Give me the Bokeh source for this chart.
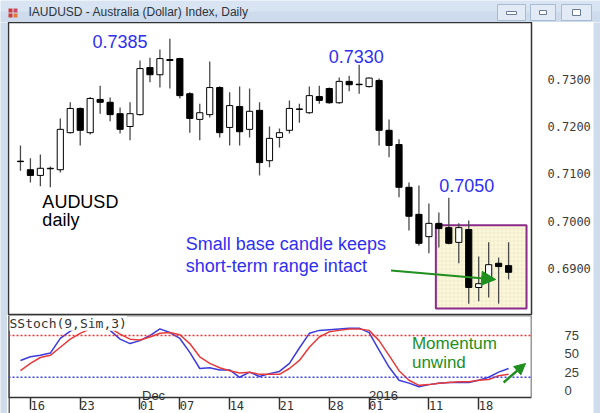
from bokeh.plotting import figure
from bokeh.layouts import column, row
from bokeh.models import (ColumnDataSource, FixedTicker, Range1d, Span, Label,
                          BoxAnnotation, Arrow, NormalHead, PrintfTickFormatter)
from bokeh.embed import file_html
from bokeh.resources import INLINE
from bokeh.core.properties import value

# ---------------- data ----------------
day_index = list(range(50))   # trading days 13 Nov 2015 .. 21 Jan 2016
opens = [0.7127, 0.7109, 0.7097, 0.7111, 0.7109, 0.7187, 0.7238, 0.7187, 0.7257, 0.7251,
         0.7227, 0.7200, 0.7225, 0.7324, 0.7309, 0.7341, 0.7343, 0.7269, 0.7215, 0.7225,
         0.7282, 0.7198, 0.7242, 0.7194, 0.7234, 0.7128, 0.7177, 0.7192, 0.7237, 0.7229,
         0.7263, 0.7280, 0.7250, 0.7295, 0.7289, 0.7284, 0.7297, 0.7192, 0.7162, 0.7072,
         0.7015, 0.6968, 0.6996, 0.6987, 0.6956, 0.6983, 0.6861, 0.6876, 0.6912, 0.6907]
highs = [0.7160, 0.7133, 0.7141, 0.7116, 0.7217, 0.7251, 0.7240, 0.7262, 0.7286, 0.7261,
         0.7240, 0.7251, 0.7339, 0.7345, 0.7362, 0.7385, 0.7345, 0.7272, 0.7248, 0.7337,
         0.7285, 0.7272, 0.7284, 0.7280, 0.7251, 0.7200, 0.7196, 0.7255, 0.7248, 0.7284,
         0.7286, 0.7282, 0.7303, 0.7307, 0.7330, 0.7303, 0.7301, 0.7215, 0.7173, 0.7082,
         0.7076, 0.7038, 0.7019, 0.7050, 0.6996, 0.7002, 0.6926, 0.6956, 0.6924, 0.6956]
lows = [0.7107, 0.7082, 0.7074, 0.7072, 0.7103, 0.7185, 0.7160, 0.7183, 0.7227, 0.7211,
        0.7185, 0.7171, 0.7223, 0.7293, 0.7282, 0.7280, 0.7259, 0.7187, 0.7171, 0.7219,
        0.7177, 0.7160, 0.7160, 0.7177, 0.7097, 0.7114, 0.7156, 0.7185, 0.7208, 0.7227,
        0.7248, 0.7248, 0.7248, 0.7274, 0.7269, 0.7282, 0.7160, 0.7135, 0.7051, 0.6981,
        0.6949, 0.6933, 0.6945, 0.6952, 0.6912, 0.6827, 0.6832, 0.6840, 0.6827, 0.6878]
closes = [0.7126, 0.7097, 0.7112, 0.7112, 0.7194, 0.7238, 0.7192, 0.7259, 0.7251, 0.7225,
          0.7194, 0.7227, 0.7322, 0.7309, 0.7343, 0.7339, 0.7265, 0.7217, 0.7229, 0.7282,
          0.7187, 0.7244, 0.7189, 0.7232, 0.7124, 0.7175, 0.7187, 0.7238, 0.7236, 0.7265,
          0.7255, 0.7250, 0.7295, 0.7288, 0.7288, 0.7302, 0.7192, 0.7160, 0.7072, 0.7011,
          0.6954, 0.6996, 0.6985, 0.6954, 0.6987, 0.6861, 0.6869, 0.6909, 0.6905, 0.6893]

stoch_k = [41, 46, 48, 51, 71, 81, 88, 92, 90, 82,
           70, 64, 68, 75, 84, 79, 71, 52, 30, 31,
           28, 28, 18, 25, 19, 23, 26, 37, 58, 78,
           82, 83, 84, 85, 85, 79, 55, 32, 14, 10,
           5, 8, 10, 11, 11, 11, 14, 18, 25, 30]
stoch_d = [27, 37, 45, 48, 59, 70, 78, 84, 87, 85,
           77, 70, 69, 73, 78, 79, 76, 64, 46, 37,
           31, 27, 24, 25, 22, 22, 22, 30, 41, 59,
           73, 80, 82, 84, 84, 82, 68, 48, 27, 14,
           7, 8, 10, 11, 12, 12, 14, 15, 20, 22]

price_ticks = [0.69, 0.70, 0.71, 0.72, 0.73]
stoch_ticks = [0, 25, 50, 75]
stoch_levels = [75, 18]
date_tick_index = [1, 6, 12, 16, 21, 26, 31, 35, 41, 46]
date_tick_labels = ["16", "23", "01", "07", "14", "21", "28", "01", "11", "18"]
month_labels = [(12.2, "Dec"), (35.0, "2016")]
base_box = dict(left=41.7, right=50.8, top=0.6992, bottom=0.6817)

BLUE = "#2f2ff0"
GREEN = "#1f8f1f"
FRAME = "#cfdcec"
X_RANGE = Range1d(-1.2, 51.3)

# ---------------- window title bar ----------------
t = figure(width=600, height=22, x_range=Range1d(0, 600), y_range=Range1d(0, 22),
           output_backend="svg", toolbar_location=None, min_border=0,
           x_axis_location=None, y_axis_location=None,
           background_fill_color="#d8e4f2", border_fill_color="#d8e4f2",
           outline_line_color=None)
t.grid.visible = False
t.quad(left=[0], right=[600], bottom=[0], top=[11], fill_color="#cddbec", line_color=None)
t.quad(left=[8, 13, 8, 13], right=[12, 17, 12, 17], bottom=[5, 5, 10, 10], top=[9, 9, 14, 14],
       fill_color=["#d23a3a", "#e07a3a", "#d23a3a", "#c84a6a"], line_color=None)
t.text(x=[28], y=[11], text=["IAUDUSD - Australia (Dollar) Index, Daily"],
       text_font=value("Liberation Sans"), text_font_size="12px",
       text_baseline="middle", text_color="#2c3440")
t.quad(left=[497, 530, 561], right=[525, 555, 591], bottom=[2, 2, 2], top=[18, 18, 18],
       fill_color="#e2eaf5", line_color="#a9bbd2", line_width=1)
t.quad(left=[506, 539, 572], right=[516, 546, 580], bottom=[8, 8, 7], top=[11, 12, 13],
       fill_color="#ffffff", line_color="#6a7c94", line_width=1)


def strip():
    f = figure(width=7, height=391, output_backend="svg", toolbar_location=None,
               min_border=0, x_axis_location=None, y_axis_location=None,
               background_fill_color=FRAME, border_fill_color=FRAME,
               outline_line_color=None)
    f.grid.visible = False
    return f


# ---------------- price panel ----------------
p = figure(width=586, height=293, x_range=X_RANGE, y_range=Range1d(0.6802, 0.7419),
           output_backend="svg", toolbar_location=None,
           x_axis_location=None, y_axis_location="right",
           min_border_left=1, min_border_right=60, min_border_top=0, min_border_bottom=0,
           background_fill_color="white", border_fill_color="white",
           outline_line_color="#333333", outline_line_width=1.5)
p.grid.visible = False
ya = p.yaxis[0]
ya.ticker = FixedTicker(ticks=price_ticks)
ya.formatter = PrintfTickFormatter(format="%.4f")
ya.axis_line_color = None
ya.major_tick_line_color = None
ya.minor_tick_line_color = None
ya.major_label_text_font = "DejaVu Sans Mono"
ya.major_label_text_font_size = "12px"
ya.major_label_text_color = "#3c3c3c"
ya.major_label_standoff = 10

p.add_layout(BoxAnnotation(fill_color="#fcf8dc", fill_alpha=1.0, line_color="#8b2b8b",
                           line_alpha=1.0, line_dash="solid", line_width=2,
                           level="underlay", hatch_pattern="+",
                           hatch_color="#ebe3bd", hatch_scale=4, hatch_weight=0.6,
                           **base_box))

src = ColumnDataSource(dict(
    x=day_index, h=highs, l=lows,
    top=[max(o, c) for o, c in zip(opens, closes)],
    bottom=[min(o, c) for o, c in zip(opens, closes)],
    fill=["white" if c >= o else "black" for o, c in zip(opens, closes)],
))
p.segment(x0="x", y0="h", x1="x", y1="l", source=src, line_color="#4a4a4a", line_width=1.3)
p.vbar(x="x", width=0.62, top="top", bottom="bottom", fill_color="fill",
       line_color="black", line_width=1, source=src)

lbl = dict(text_font="Liberation Sans", text_font_size="18px")
p.add_layout(Label(x=10.0, y=0.73663, text="0.7385", text_align="center", text_color=BLUE, **lbl))
p.add_layout(Label(x=33.7, y=0.73347, text="0.7330", text_align="center", text_color=BLUE, **lbl))
p.add_layout(Label(x=44.8, y=0.70611, text="0.7050", text_align="center", text_color=BLUE, **lbl))
p.add_layout(Label(x=2.2, y=0.70189, text="AUDUSD", text_color="black", **lbl))
p.add_layout(Label(x=2.2, y=0.69811, text="daily", text_color="black", **lbl))
p.add_layout(Label(x=16.6, y=0.69305, text="Small base candle keeps", text_color=BLUE, **lbl))
p.add_layout(Label(x=16.6, y=0.68842, text="short-term range intact", text_color=BLUE, **lbl))
p.add_layout(Arrow(end=NormalHead(size=14, fill_color=GREEN, line_color=GREEN),
                   x_start=37.2, y_start=0.68968, x_end=47.7, y_end=0.68779,
                   line_color=GREEN, line_width=2))

# ---------------- stochastic panel (frame runs to the window bottom) ----------------
S_BOTTOM = -9.55           # stochastic value at the panel's lower border
S_RANGE = Range1d(-31.4, 102.3)
s = figure(width=586, height=98, x_range=X_RANGE, y_range=S_RANGE,
           output_backend="svg", toolbar_location=None, y_axis_location="right",
           min_border_left=1, min_border_right=60, min_border_top=0, min_border_bottom=0,
           background_fill_color="white", border_fill_color="white",
           outline_line_color=None)
s.grid.visible = False
sy = s.yaxis[0]
sy.ticker = FixedTicker(ticks=stoch_ticks)
sy.axis_line_color = None
sy.major_tick_line_color = None
sy.minor_tick_line_color = None
sy.major_label_text_font = "Liberation Sans"
sy.major_label_text_font_size = "13px"
sy.major_label_text_color = "#3c3c3c"
sy.major_label_standoff = 27

s.add_layout(BoxAnnotation(bottom=S_BOTTOM, fill_alpha=0.0, line_color="#333333",
                           line_alpha=1.0, line_dash="solid", line_width=1.5))
s.add_layout(Span(location=X_RANGE.start + 0.05, dimension="height",
                  line_color="#333333", line_width=1.5))

sx = s.xaxis[0]
sx.fixed_location = S_BOTTOM
sx.ticker = FixedTicker(ticks=date_tick_index)
sx.major_label_overrides = {i: lab for i, lab in zip(date_tick_index, date_tick_labels)}
sx.axis_line_color = None
sx.major_tick_line_color = "#333333"
sx.major_tick_line_width = 1.5
sx.major_tick_in = 0
sx.major_tick_out = 12
sx.minor_tick_line_color = None
sx.major_label_orientation = -0.0001
sx.major_label_standoff = -4
sx.major_label_text_font = "DejaVu Sans Mono"
sx.major_label_text_font_size = "12px"
sx.major_label_text_color = "#333333"

s.add_layout(Span(location=stoch_levels[0], dimension="width", line_color="#f03030",
                  line_dash="2 2", line_width=1.5))
s.add_layout(Span(location=stoch_levels[1], dimension="width", line_color="#4040f0",
                  line_dash="2 2", line_width=1.5))
s.line(day_index, stoch_k, line_color="#3b3bdb", line_width=1.5)
s.line(day_index, stoch_d, line_color="#e83a3a", line_width=1.5)

s.add_layout(Label(x=-1.1, y=102.0, text="SStoch(9,Sim,3)", text_baseline="top",
                   text_font="DejaVu Sans Mono", text_font_size="13px", text_color="#333333",
                   background_fill_color="white"))
for mx, mt in month_labels:
    s.add_layout(Label(x=mx, y=-6.8, text=mt, text_baseline="alphabetic",
                       text_font="Liberation Sans", text_font_size="13px", text_color="#333333"))
s.add_layout(Label(x=39.3, y=50.5, text="Momentum", text_color=GREEN,
                   text_font="Liberation Sans", text_font_size="17px"))
s.add_layout(Label(x=39.3, y=24.6, text="unwind", text_color=GREEN,
                   text_font="Liberation Sans", text_font_size="17px"))
s.add_layout(Arrow(end=NormalHead(size=11, fill_color=GREEN, line_color=GREEN),
                   x_start=48.5, y_start=10.9, x_end=50.7, y_end=36.8,
                   line_color=GREEN, line_width=2.5))

layout = column(t, row(strip(), column(p, s, spacing=0), strip(), spacing=0), spacing=0)
open("out.html", "w").write(file_html(layout, INLINE))
